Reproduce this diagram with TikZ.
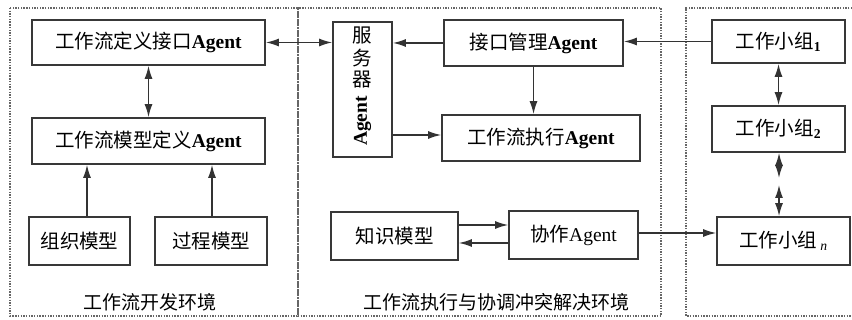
\documentclass[tikz,border=0pt]{standalone}
\usepackage{fontspec}
\setmainfont{Liberation Serif}
\newfontfamily\cjk{Noto Sans CJK SC}
\usetikzlibrary{arrows.meta}
\begin{document}
\begin{tikzpicture}[x=1pt,y=-1pt,
  box/.style={draw=black!78, line width=1.7pt, inner sep=0pt, fill=white,
    font=\fontsize{19.5}{21}\selectfont},
  lbl/.style={inner sep=0pt, font=\fontsize{19}{21}\selectfont},
  panel/.style={draw=black!60, line width=1.6pt, dash pattern=on 1.4pt off 1.3pt},
  conn/.style={draw=black!80, line width=1.5pt},
  arr/.style={conn, -{Latex[length=13pt,width=8pt]}},
  darr/.style={conn, {Latex[length=13pt,width=8pt]}-{Latex[length=13pt,width=8pt]}}
]
\useasboundingbox (0,0) rectangle (852,320);
\fill[white] (0,0) rectangle (852,320);
% panels
\draw[panel] (10,8) rectangle (298,316);
\draw[panel] (298,8) rectangle (661,316);
\draw[panel] (852,8) -- (686,8) -- (686,316) -- (852,316);
% left panel
\node[box, minimum width=233, minimum height=45] (defif) at (148.5,42.5) {{\cjk 工作流定义接口}\textbf{Agent}};
\node[box, minimum width=233, minimum height=46] (moddef) at (148.5,141) {{\cjk 工作流模型定义}\textbf{Agent}};
\node[box, minimum width=101, minimum height=48] (org) at (79.5,241) {\cjk 组织模型};
\node[box, minimum width=112, minimum height=48] (proc) at (211,241) {\cjk 过程模型};
\node[lbl] (lenv) at (150,302) {\cjk 工作流开发环境};
% middle panel
\node[box, minimum width=59, minimum height=135] (srv) at (362.5,89.5)
  {\cjk\begin{tabular}{@{}c@{}}服\\务\\器\\[3pt]\rotatebox{90}{\rmfamily\bfseries Agent}\end{tabular}};
\node[box, minimum width=179, minimum height=46] (ifm) at (533.5,43) {{\cjk 接口管理}\textbf{Agent}};
\node[box, minimum width=198, minimum height=46] (exe) at (541,138) {{\cjk 工作流执行}\textbf{Agent}};
\node[box, minimum width=127, minimum height=48] (know) at (394.5,236) {\cjk 知识模型};
\node[box, minimum width=129, minimum height=48] (coop) at (573.5,235) {{\cjk 协作}Agent};
\node[lbl] (menv) at (496,302) {\cjk 工作流执行与协调冲突解决环境};
% right panel
\node[box, minimum width=133, minimum height=43] (g1) at (778.5,41.5) {{\cjk 工作小组}\textbf{\textsubscript{1}}};
\node[box, minimum width=133, minimum height=46] (g2) at (778.5,129) {{\cjk 工作小组}\textbf{\textsubscript{2}}};
\node[box, minimum width=133, minimum height=48] (gn) at (783.5,241) {{\cjk 工作小组}\,\textsubscript{\textit{n}}};
% helper coordinates
\coordinate (xorg) at (87,0);
\coordinate (xproc) at (212,0);
\coordinate (ya) at (0,225);
\coordinate (yb) at (0,243);
\coordinate (yc) at (0,233);
\coordinate (ys) at (0,135);
\coordinate (m1) at (779,178);
\coordinate (m2) at (779,185);
% connectors
\draw[darr] (defif.south) -- (moddef.north);
\draw[arr] (org.north -| xorg) -- (moddef.south -| xorg);
\draw[arr] (proc.north -| xproc) -- (moddef.south -| xproc);
\draw[darr] (defif.east) -- (defif.east -| srv.west);
\draw[arr] (ifm.west) -- (ifm.west -| srv.east);
\draw[arr] (srv.east |- ys) -- (exe.west |- ys);
\draw[arr] (ifm.south) -- (ifm.south |- exe.north);
\draw[arr] (g1.west) -- (g1.west -| ifm.east);
\draw[darr] (g1.south) -- (g2.north);
\draw[darr] (g2.south -| m1) -- (m1);
\draw[darr] (m2) -- (gn.north -| m2);
\draw[arr] (know.east |- ya) -- (coop.west |- ya);
\draw[arr] (coop.west |- yb) -- (know.east |- yb);
\draw[arr] (coop.east |- yc) -- (gn.west |- yc);
\end{tikzpicture}
\end{document}
